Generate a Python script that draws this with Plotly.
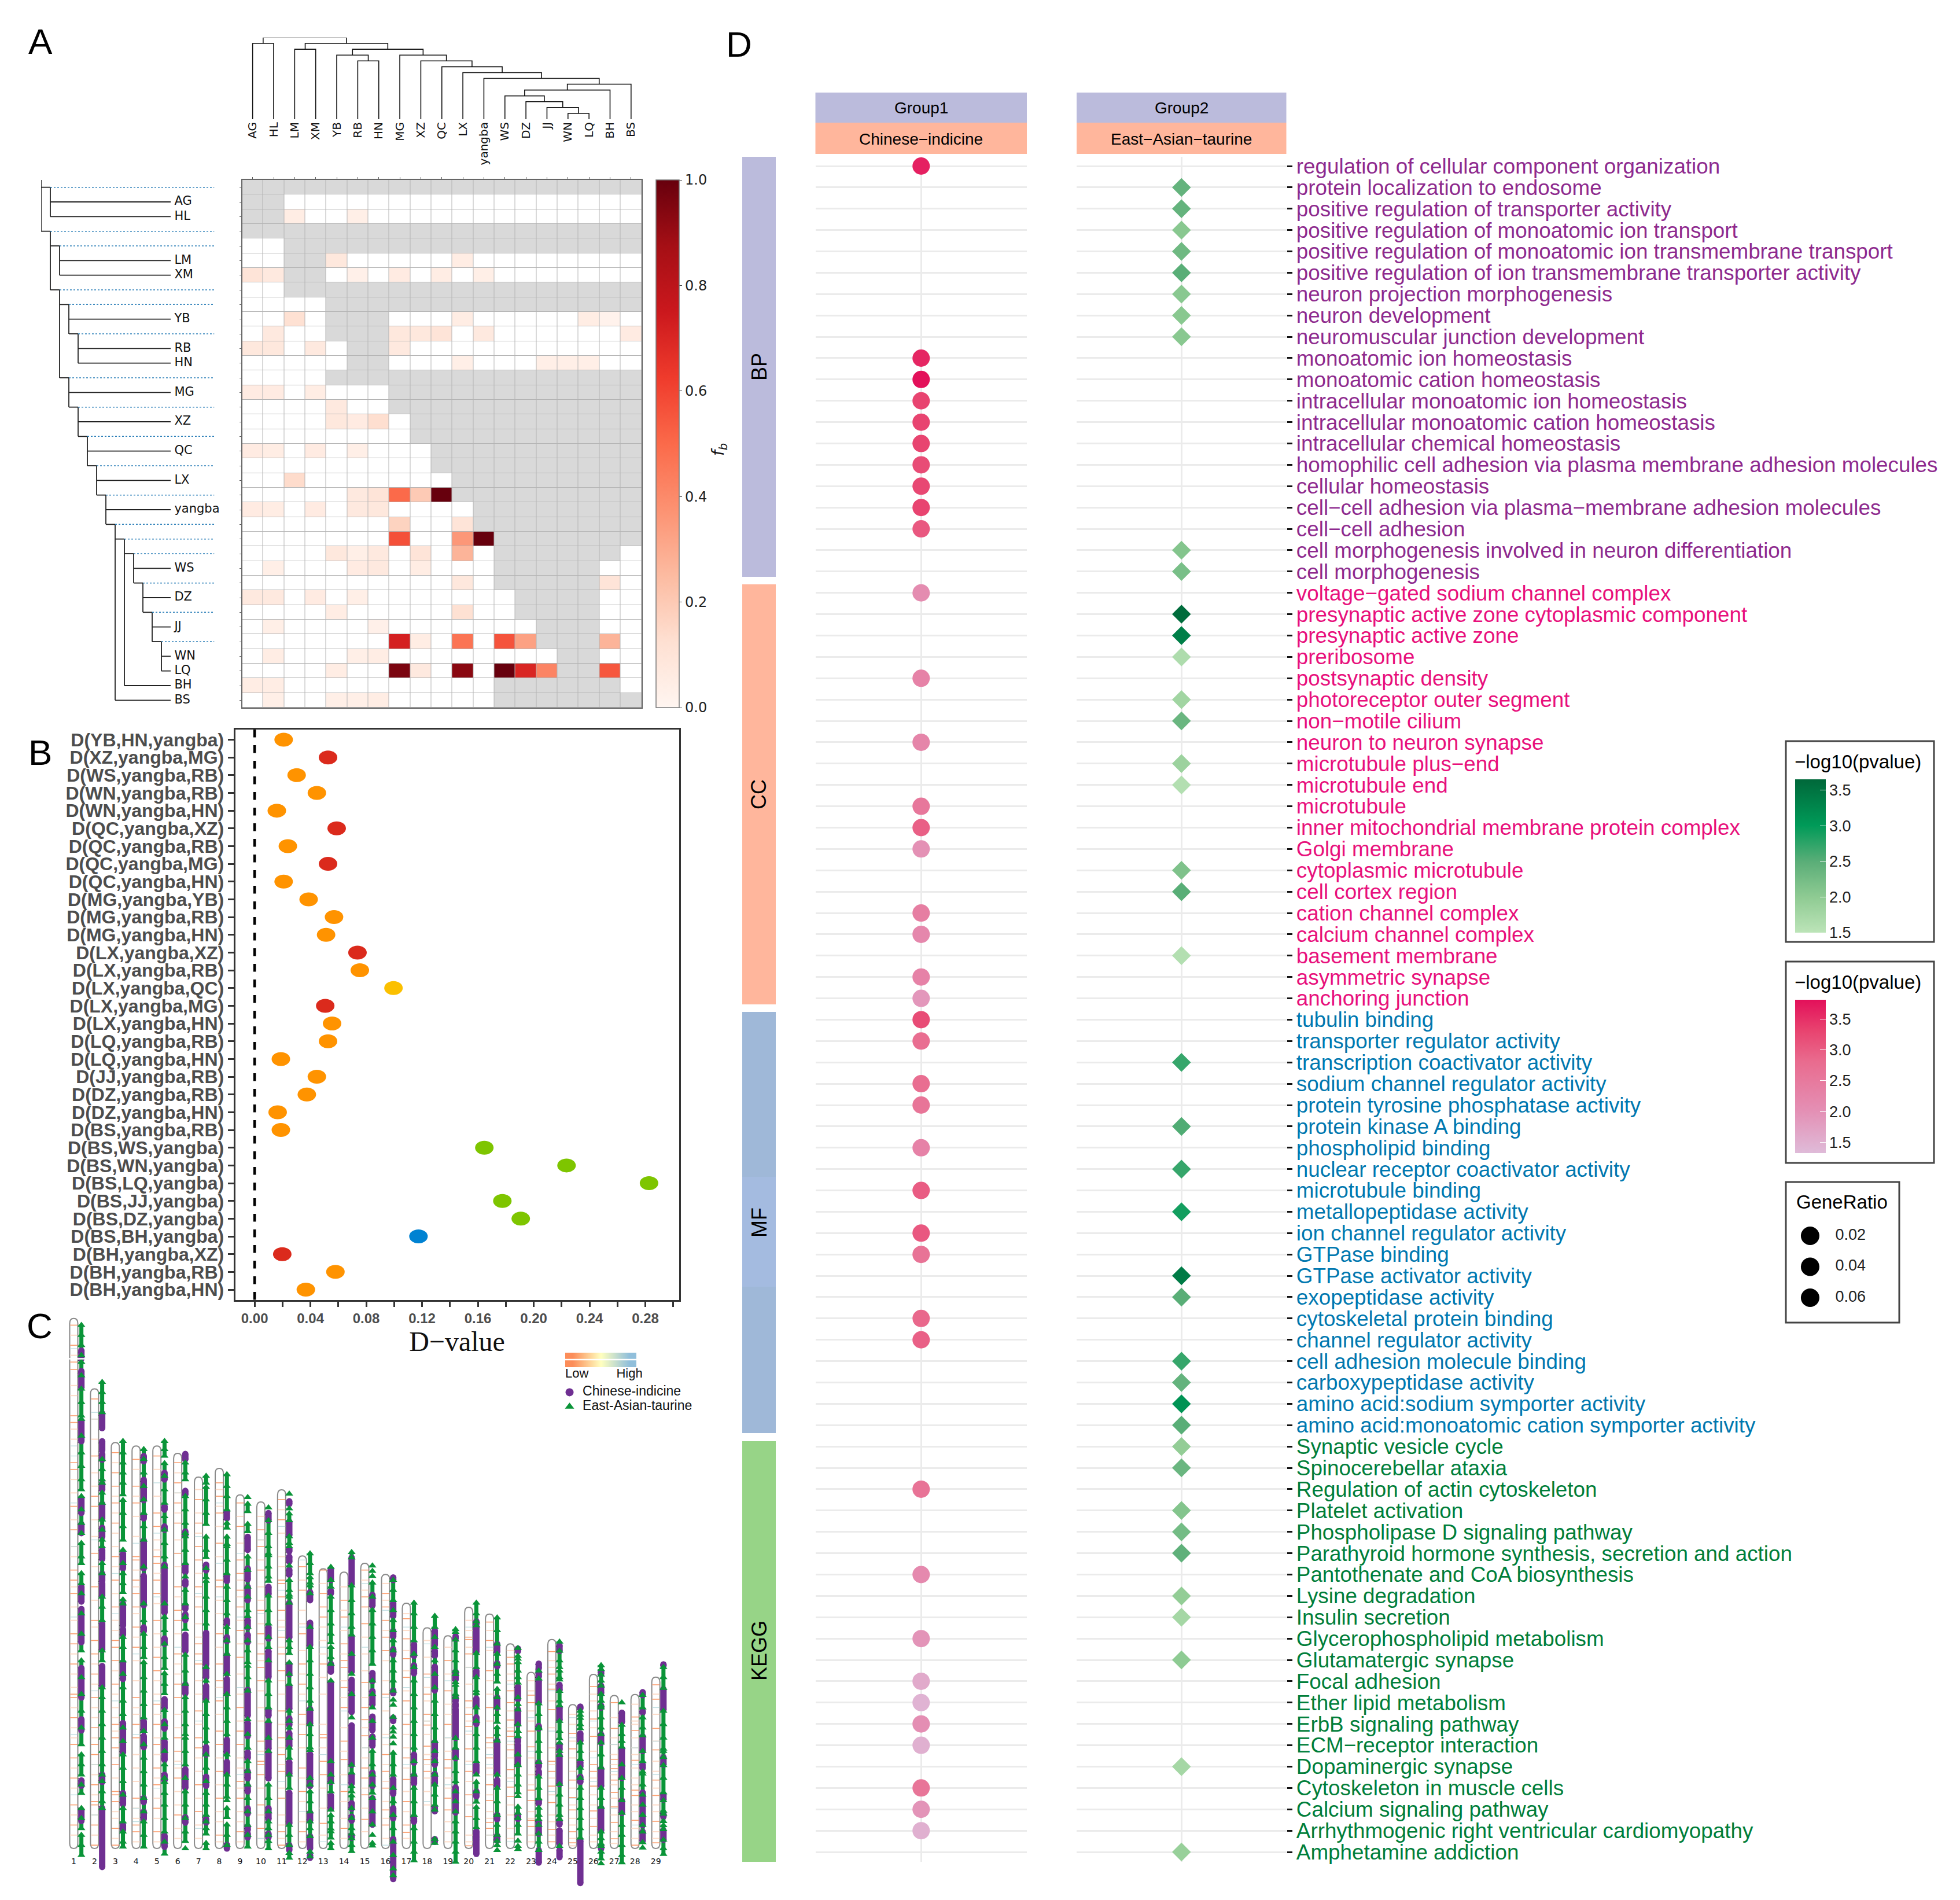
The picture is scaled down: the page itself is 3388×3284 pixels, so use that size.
import plotly.graph_objects as go

W, H = 3388, 3284
FONT = "Liberation Sans"
N = None

# ---------- Panel A ----------
pops = ["AG","HL","LM","XM","YB","RB","HN","MG","XZ","QC","LX","yangba","WS","DZ","JJ","WN","LQ","BH","BS"]
fb_rows = [
 [N,N,N,N,N,N,N,N,N,N,N,N,N,N,N,N,N,N,N],
 [N,N,0,0,0,0,0,0,0,0,0,0,0,0,0,0,0,0,0],
 [N,N,.05,0,0,.04,0,0,0,0,0,0,0,0,0,0,0,0,0],
 [N,N,N,N,N,N,N,N,N,N,N,N,N,N,N,N,N,N,N],
 [0,0,N,N,N,N,N,N,N,N,N,N,N,N,N,N,N,N,N],
 [0,0,N,N,.08,0,0,0,0,0,.05,0,0,0,0,0,0,0,0],
 [.1,.07,N,N,0,.03,0,.06,0,.05,0,.04,0,0,0,0,0,0,0],
 [0,0,N,N,N,N,N,N,N,N,N,N,N,N,N,N,N,N,N],
 [0,0,0,0,N,N,N,N,N,N,N,N,N,N,N,N,N,N,N],
 [0,0,.12,0,N,N,N,0,0,0,.05,0,0,0,0,0,.05,.02,0],
 [0,.07,0,0,N,N,N,.08,.08,.1,0,.07,0,0,0,0,0,0,.06],
 [.08,.08,0,.07,0,N,N,.07,0,0,0,0,0,0,0,0,0,0,0],
 [0,0,0,0,0,N,N,0,0,0,.04,0,0,0,.04,.04,.04,0,0],
 [0,0,0,0,N,N,N,N,N,N,N,N,N,N,N,N,N,N,N],
 [.06,.06,0,.05,0,0,0,N,N,N,N,N,N,N,N,N,N,N,N],
 [0,0,0,0,.07,0,0,N,N,N,N,N,N,N,N,N,N,N,N],
 [0,0,0,0,.08,.06,.13,0,N,N,N,N,N,N,N,N,N,N,N],
 [0,0,0,0,0,0,0,0,N,N,N,N,N,N,N,N,N,N,N],
 [.06,.05,0,.06,0,.04,0,0,0,N,N,N,N,N,N,N,N,N,N],
 [0,0,0,0,0,0,0,0,0,N,N,N,N,N,N,N,N,N,N],
 [0,0,.14,0,0,0,0,0,0,0,N,N,N,N,N,N,N,N,N],
 [0,0,0,0,0,.07,.1,.5,.2,1.0,N,N,N,N,N,N,N,N,N],
 [.06,.05,0,.06,0,.07,.08,0,0,0,0,N,N,N,N,N,N,N,N],
 [0,0,0,0,0,0,0,.17,0,0,.1,N,N,N,N,N,N,N,N],
 [0,0,0,0,0,0,0,.57,0,0,.36,1.0,N,N,N,N,N,N,N],
 [0,0,0,0,.08,.04,.07,0,.1,0,.27,0,N,N,N,N,N,N,0],
 [0,.04,0,0,0,.06,.07,0,.05,0,0,0,N,N,N,N,N,0,0],
 [0,0,0,0,0,0,0,0,0,0,.08,0,N,N,N,N,N,.1,0],
 [.07,.07,0,.06,0,.04,0,0,0,0,0,0,0,N,N,N,N,0,0],
 [0,0,0,0,.05,0,0,0,0,0,.12,0,0,N,N,N,N,0,0],
 [0,.04,0,0,0,0,.03,0,0,0,0,0,0,0,N,N,N,0,0],
 [0,0,0,0,0,0,0,.72,.05,0,.47,0,.56,.33,N,N,N,.27,0],
 [0,.05,0,0,0,.04,.05,0,0,0,0,0,0,0,0,N,N,0,0],
 [0,0,0,0,.05,0,0,.96,.07,0,.93,0,1.0,.7,.42,N,N,.55,0],
 [.05,.05,0,0,0,0,0,0,0,0,0,0,N,N,N,N,N,N,0],
 [0,.04,0,0,.04,.04,.05,0,0,0,0,0,N,N,N,N,N,N,N],
]
# merges of the upper dendrogram: child, child, merge height
top_merges = [("WN","LQ",1),("JJ","m0",2),("DZ","m1",3),("WS","m2",4),("m3","BH",5),("m4","BS",6),
              ("yangba","m5",7),("LX","m6",8),("QC","m7",9),("XZ","m8",10),("MG","m9",11),
              ("RB","HN",10),("YB","m11",11),("m12","m10",12),("LM","XM",12),("m14","m13",13),
              ("AG","HL",13),("m16","m15",14)]
# left tree: vertical branches (depth, first row, last row)
left_verticals = [(0,-.5,3),(1,0,2),(1,3,7),(2,4,6),(2,7,13),(3,8,10),(4,10,12),(3,13,15),(4,15,17),(5,17,19),
                  (6,19,21),(7,21,23),(8,23,35),(9,24,34),(10,25,27),(11,27,29),(12,29,31),(13,31,33)]
left_tips = [(0,1),(3,1),(4,2),(7,2),(8,3),(10,4),(13,3),(15,4),(17,5),(19,6),(21,7),(23,8),(24,9),(25,10),(27,11),(29,12),(31,13)]
left_leaves = [("AG",1,1),("HL",2,1),("LM",5,2),("XM",6,2),("YB",9,3),("RB",11,4),("HN",12,4),("MG",14,3),("XZ",16,4),
               ("QC",18,5),("LX",20,6),("yangba",22,7),("WS",26,10),("DZ",28,11),("JJ",30,12),("WN",32,13),("LQ",33,13),
               ("BH",34,9),("BS",35,8)]
reds = [[0,"#ffffff"],[.002,"#fff5f0"],[.125,"#fee0d2"],[.25,"#fcbba1"],[.375,"#fc9272"],[.5,"#fb6a4a"],
        [.625,"#ef3b2c"],[.75,"#cb181d"],[.875,"#a50f15"],[1,"#67000d"]]

# ---------- Panel B ----------
d_labels = ["D(YB,HN,yangba)","D(XZ,yangba,MG)","D(WS,yangba,RB)","D(WN,yangba,RB)","D(WN,yangba,HN)","D(QC,yangba,XZ)",
 "D(QC,yangba,RB)","D(QC,yangba,MG)","D(QC,yangba,HN)","D(MG,yangba,YB)","D(MG,yangba,RB)","D(MG,yangba,HN)",
 "D(LX,yangba,XZ)","D(LX,yangba,RB)","D(LX,yangba,QC)","D(LX,yangba,MG)","D(LX,yangba,HN)","D(LQ,yangba,RB)",
 "D(LQ,yangba,HN)","D(JJ,yangba,RB)","D(DZ,yangba,RB)","D(DZ,yangba,HN)","D(BS,yangba,RB)","D(BS,WS,yangba)",
 "D(BS,WN,yangba)","D(BS,LQ,yangba)","D(BS,JJ,yangba)","D(BS,DZ,yangba)","D(BS,BH,yangba)","D(BH,yangba,XZ)",
 "D(BH,yangba,RB)","D(BH,yangba,HN)"]
d_values = [.0208,.0526,.0301,.0446,.0159,.0588,.0238,.0526,.0208,.0387,.0569,.0512,.0737,.0754,.0995,.0506,.0555,
            .0526,.0188,.0446,.0374,.0165,.0188,.1646,.2235,.2826,.1775,.1907,.1174,.0198,.0579,.0367]
d_groups = ["O","R","O","O","O","R","O","R","O","O","O","O","R","O","Y","R","O","O","O","O","O","O","O","G","G","G","G","G","B","R","O","O"]
d_colors = {"O":"#FF9300","R":"#DB2A1C","Y":"#FBC000","G":"#7EC500","B":"#0082D2"}
d_ticks = [0,.04,.08,.12,.16,.20,.24,.28]
d_ticktext = ["0.00","0.04","0.08","0.12","0.16","0.20","0.24","0.28"]

# ---------- Panel C ----------
chrom_len = [158,137,121,120,120,117.8,110.7,113.3,105.4,103.3,106.9,87.2,83.4,82.4,85,81.7,73.1,65.8,63.4,71.9,69.9,61,52.5,62.3,42.9,51.9,45.6,45.9,51.1]
taurine_pos = [
 [156,153,150,147,N,145,141,137,133,129,N,128,123,118,114,110,107,N,105,101,97,94,N,91,87,85,N,82,79,76,N,70,64,59,N,56,51,46,41,36,31,N,28,25,22,N,19,16.5,N,12,9,6,N,4,1,-2],
 [139,136,133,130,N,116,113,110,N,109,106,103,N,98,95,N,92,90,N,85,82,N,75,72,68,N,59,56,N,48,45,41,37,33,29,25,22,N,20,17,14,12],
 [121.4,118,115,112,109,105.5,N,103.8,100,96,92,N,89,85,82,79,76.4,N,74.2,73,N,63,60,56,52,48,44,40,36,32,28,24,20,16,12,8,5,2,.5],
 [119,116,112,108,104,100,96,92,84,73,68,64,60,57,N,55.5,51,47,43,39,35,31,27,23,19,15,11,8,4,.5],
 [121.4,119,117,N,114.8,111,107,103,99,95,91,87,84,73,69,65,61,57,53.8,N,52.2,49,46.2,N,41.2,37,33,29,25,21,N,19.8,16.5,13,9,5,2,-1.6],
 [115,112,110,N,105,101,97,94,N,93,89,85,81,77,73,69,65.4,N,57.7,53,49,45,41,37,34,N,33,29,25,21,17,13,9,5,2.2,N,0],
 [111,109,N,107.7,104,100,96.7,N,92.9,89,86.8,N,83.5,80.8,N,79.7,75,71,67,54,50,44,40,36,32,28,24,20,16.5,13,10,N,8,6,4.4,N,1.6,0],
 [111.5,108,105,101,N,97,95.6,N,92.9,90.7,N,90,86,82,78,74,70,66,62,58,52,46,42,38,34,28,22,19,15.4,N,14.3,N,12,9.3,N,7.1,4,1],
 [104.7,N,102.7,100.5,N,96.7,94.5,N,87,83,78,75,71,69.2,N,66,62,59,55.5,N,54.4,51,47,N,38.5,34,30,26,23,19,15,11,7,4,.5],
 [101.6,N,97.8,94,90,87.9,N,87.4,84,81,79.7,N,75.3,71,67,63,60,56,50,46,42,38,33,29,N,19,15,11,8,6,4,N,2.2,0],
 [105.7,N,101.3,N,99.8,97.8,N,93,91,90,N,84.3,N,80,77,75.6,N,75,73.2,N,62,60,58.2,N,55.4,52,49,N,41,38,N,36,33,30,27,22,18,N,7,4,1,-1.4,-2.8],
 [87.9,85,82,N,80.8,79.2,N,78.4,76,N,66,60,56,52,48,44,41.6,N,37,34,30.1,N,29.3,N,21,19,N,17,14,11,N,8,6,3.6,N,-1,-2.4],
 [83.9,80,78,N,75,71,67,64,61.4,N,60,57,55,N,50,N,26,22,N,19.8,17,N,11.5,N,9.9,8,5.9,N,5.1,3.2,N,1.6,0],
 [88.3,86.7,N,78.4,74,70,66,63.7,N,58,N,52,N,46,N,39,N,24.9,22.6,N,18.6,17,N,15.8,12,9,6,4.4,N,3,1,-.8],
 [84.3,N,82.7,N,81.2,N,79.2,75,71,67,63,59,55,N,50,46,N,42,N,38,N,33,N,29,25,22,19,16.6,N,15,11,7.1,N,4,N,1.6,.8],
 [80,77,74,71,68,65,62,59,56,53,50,47,N,44.3,N,42.8,N,39.2,N,36,N,34.8,N,33.3,N,31.3,N,28.5,25,22,18,14,10,6,2,-2,-6,-8],
 [73.2,70,66,62,58,54,50,46,42,38,34,30,26,22,18,14,10,6,2,-1,-3.6],
 [69.3,66,63,60,56,52,48,44,40,36,32,29,26,22,19,16,13,11.5,N,2.8,1.6],
 [65.3,64.5,N,62.2,59,56,53,N,51.9,49.5,N,48.7,46,45.1,N,32.9,30,27,23,20,17,14,11,8,5,2,-1,-4],
 [73.2,70,67.7,N,66.5,N,58.2,54,51,47.1,N,46.3,42,38,34,30,26,22,N,19.8,17,13.9,N,12.3,9,6.3],
 [68.8,65,61,58,55,52,49.7,N,47.5,45,42,40,37.7,N,36.1,34,32.1,N,22,18,14,10,7,4,2.3,N,1,N,-.5],
 [59.7,N,57.4,56.5,N,55.5,53,51,49.4,N,45,43,41.4,N,37,35,33.4,N,28,25,N,24.8,22,19,16.7,N,15.5,N,12.4,10.6,N,9,7,4.4,N,2.3,N,.7,-.2],
 [53,N,50.6,N,43.2,40,36.1,N,35.8,32,29,25.7,N,21.4,18,14.9,N,12.1,10,8.7,N,7,4.4,2,-.5],
 [61.6,N,58.9,56,54,N,53,51,50.3,N,46.9,44,42.6,N,38,35,32.8,N,31.5,29,27.8,N,19.2,16,13,10,8.7,N,.7],
 [41,39.8,N,38.9,37,35.8,N,31.5,29,26.6,N,24,21,18,15,12,9,6,3.2],
 [54.6,53.4,N,51.8,50,48.5,N,46,44,42.6,N,42,39,36,34,N,31.5,28,24.1,N,18,15,12.4,N,5,3,1.4,N,.7,-1,-3,N,-4.5],
 [43.5,N,36.8,34,32,30.3,N,25,21,18,14.3,N,10.6,7,4,1,-2,-4.2],
 [45.7,42,39,36,33.7,N,29,26,22.9,N,22.3,19,16,13,10,7,5,N,1.8,N,.2],
 [54,51,47.8,N,41,37,33,29.7,N,29,27.2,N,24.8,21,16.7,N,14.3,11.2,N,10.3,8.1,N,6.9,5.7,N,2.6,0,-1.7],
]
indicine_runs = [
 [(148.4,146),(142.3,137.4),(127.5,121.4),(104.4,100),(96.7,94),(78,73.6),(71.4,61.5),(53.8,45),(38.5,35.2),(20.3,18.7),(11.5,8.2)],
 [(129.7,125.3),(121.4,118.7),(117.6,115.9),(108.8,107),(102.7,98.4),(95.6,92.9),(89,86.3),(81.9,79.7),(79,75.3),(67,59.3),(54.4,48.4),(22,19.8),(12,-5.5)],
 [(87.9,83.5),(73,66.5),(65.4,63.7),(55.5,50.5),(37.4,28.6),(16.5,13.2),(7.1,5.5)],
 [(117,115.4),(109.9,108.2),(107.7,103.8),(99.5,98.4),(91.8,83.5),(81.3,72.5),(65.9,64.8),(37.9,35.2),(33.5,30.2),(15,13.8),(11,8.8)],
 [(112,110),(102,101),(96,95),(84.6,73.6),(73,70.3),(62.6,61),(44.5,41.8),(37.9,35.7),(31.9,26.4),(22,20.3),(3.8,.5)],
 [(117.6,116),(106.6,105.5),(94.5,93.4),(84.6,82.4),(79.7,78.6),(72.5,71.4),(69.8,68.1),(63.7,58.8),(48.9,46.2),(23.6,18.1),(9.3,7.7)],
 [(84.6,82.9),(64.3,54.9),(53.8,51),(48.4,44.5),(30.2,28),(21.4,18.7),(8.8,7.7)],
 [(100.5,98.4),(81.3,79.7),(68,66.9),(63,61.8),(57.7,52.2),(50.5,46.2),(32.4,28.6),(25.8,22.5),(1.1,0)],
 [(92.9,89),(83.5,80.2),(78,74),(68.1,65.9),(63.7,61.5),(47.3,39.6),(37.4,33.5),(28.6,27),(23,20.9),(18.7,17),(12,10.4),(6.6,5.5),(4.4,3.3)],
 [(100,97.8),(78,75.8),(65.9,62.6),(58.8,51.1),(41.2,39.6),(37.4,29.7),(28.6,20.9),(12,8.8),(4.4,3.3)],
 [(103.5,102.7),(97.4,93.4),(89.4,88.6),(87,85.5),(83.1,81.6),(73.2,62.9),(55,51.9),(48.3,41.6),(38.8,36.8),(34.4,30.5),(25.7,22.2),(16.6,7.5),(1,-.5)],
 [(76.4,74),(67.3,60.6),(41.6,37.2),(28.1,21),(20.2,18.6),(10.7,8.3),(3.6,0),(-2,-2.8)],
 [(83.3,80),(76.8,76),(55,52.7),(49.5,19.8),(15.8,11.9)],
 [(86.7,78.8),(63,58.3),(57.5,52.7),(50.3,47.1),(46.3,40.7),(36.7,24.9),(21.8,19.4),(13.5,11.9),(9.5,8.3),(4,3.2)],
 [(75.6,72.4),(52.3,49.9),(46.9,42.9),(39.3,35.3),(33.4,30.6),(22.6,18.6),(15,7.1)],
 [(80.8,80),(73.2,69.3),(64.8,63.2),(59.4,57.8),(47.1,46.3),(39,38),(20.7,16.3),(12,9),(2.8,-9.1)],
 [(60.9,57.4),(54.6,52.2),(28,25.6),(21.8,19.4),(9,8)],
 [(65,60.6),(59,57.4),(54.2,47.1),(31.7,27.4),(26.6,25),(22.2,19.4),(12.3,11.1),(2.8,2)],
 [(63.3,62.5),(52.7,50.3),(45.1,43.9),(43.1,42.3),(41.6,32.9),(29.3,26.9),(18.2,10.7)],
 [(67.7,66.9),(66.1,58.6),(53,51.4),(44.7,42.3),(39.1,37.1),(25,22.6),(17,15.5),(5.1,3.2),(2.8,-1.6)],
 [(61,58.6),(55.2,54.3),(45,42),(32.1,22.3),(20.4,18.6),(10,8.7),(3.8,2.3)],
 [(59.6,58.8),(48.2,44.5),(41.4,37),(32.8,31.8),(30.9,25),(9.8,8.8)],
 [(55.1,53.7),(52.5,51.2),(50,43.5),(36.5,35.8),(25.7,24.4),(23,22),(14.3,13.4),(7.8,4.4),(-.5,-4.2)],
 [(60.5,58.9),(48.8,47.2),(42,38.3),(31,29.5),(27.8,19.2),(8.4,7.2),(5.4,1.4),(-.5,-2.6)],
 [(42.3,41.7),(34.3,32.1),(25.7,24.4),(21.4,19.8),(2.3,-10.3)],
 [(52.8,52),(48.5,46.3),(42.6,42),(34,31.5),(23.8,18.6),(12.1,5.4),(.6,-.1)],
 [(40.5,37.7),(29.7,21),(14.3,10.6)],
 [(46.6,45.7),(41,40.5),(33.4,29.1),(25,24),(16.7,6.9),(5,2.3)],
 [(54.9,54.5),(47.5,41.4),(27.2,25),(16.1,14.6),(10.3,9.5),(5.4,2.6)],
]
bands_low = [
 [156,150,145,142.8,129,127,115,113,102,95,83,80,76,64,61,55,46,45,39,31,27,21,13,7],
 [134,117,105,102,88,78,68,62,58,52,45,36,31,28,19,14,13,7,1],
 [118,112,108,103,97,87,80,72,62,60,56,49,37,33,30,25,17,16,14,6,1],
 [116,108,103,87,86,80,76,72,66,60,45,37,33,15,7,5],
 [117,100,96,87,85,80,76,68,57,53,43,37,31,24,19,12,5],
 [115,109,103,97,88,78,71,68,58,49,45,33,29,21,10],
 [104,97,90,86,78,72,61,58,55,41,33,30,19,11],
 [109,105,100,91,80,78,64,55,50,44,35,31,23,15,4],
 [103,96,86,82,77,72,65,57,42,35,31,20,15,5],
 [95,90,83,71,64,58,54,50,32,26,25,22,13,6],
 [104,98,80,79,75,71,63,58,53,41,33,28,23,15,5,1],
 [84,77,64,55,49,40,34,24,17,5],
 [83,76,72,69,55,34,33,26,22,7.5],
 [74,69,61,56,54,48,42,32,26.5,17,6],
 [83,75,72,67,49.5,42,38.4,33.6,24,21,16,8.7],
 [76,72,68,63,59,46,28,23,18,11.5,7],
 [68.5,62.5,56.6,51,44,37,27,20.6,14,7,4.8],
 [40,36.8,30.5,26.5,52,46,23],
 [56,47,37,26.5,24,15,11.5],
 [63,62.3,58,44,40,36.4,29.7,23,16,9.5,.8],
 [67.5,62,53,42,33,31.5,27,19,14.3,7.8,6],
 [57,55,47,43.5,38.3,35,33.4,29.4,23.5,18.3,15.5],
 [45.7,43.5,35,30.3,17.4,14.3,8.4,6.6],
 [58.7,52,47.5,41.4,26,23,18.6,13.7,5.7,2],
 [34.3,29.7,20.4,15.2,11.5,5,1.7],
 [48.3,38.6,33.4,25,23,18.6,11.2,6.6],
 [43.5,35.8,26.6,23.8,20.4,16.7,12.4,7.8,2.9],
 [39.2,35.2,26.3,17.4,15.8,8.4,1],
 [48.8,44.5,35.8,29.4,20.4,15.8,8.1,1.7],
]
bands_mid = [
 [153,147,138,135,125,122,110,106,98,90,87,78,72,68,58,52,48,42,36,33,24,18,10,4],
 [128,122,112,108,98,93,84,74,66,55,49,42,39,33,25,22,16,10,4],
 [115,105,100,94,90,84,76,68,65,53,46,42,39,35,27,21,11,9,3],
 [113,105,99,93,83,78,70,63,56,50,42,40,28,24,20,12,9,2],
 [113,105,92,89,82,73,64,60,50,46,40,33,28,21,15,9,2],
 [112,106,100,92,84,75,64,55,52,40,36,26,24,17,13,6,3],
 [107,100,94,82,75,67,63,50,46,37,27,23,15,7,3],
 [107,102,96,87,74,70,60,48,40,27,19,11,8,2],
 [99,91,80,75,68,61,52,46,38,27,24,18,11,8,2],
 [99,92,86,78,74,67,61,56,47,42,38,29,18,10,3],
 [101,94,87,84,68,66,60,50,46,37,30,25,18,10,7,3],
 [80,71,67,59,52,46,37,30,21,14,8,2],
 [79,66,62,58,51,46,37,30,18,12,4],
 [78,71,65,58,50,45,36,29,22,14,9,3],
 [80,77,63,58,53,45,36,30,27,18,12,5],
 [79,74,65,56,50,41,34,31,25,20,14,9,3],
 [70,65,59,53,47,40,34,30,24,17,11,3],
 [62,57,48,44,38,34,28,25,21,17,13],
 [60,52,43,40,33,29,21,18,8,5,2],
 [68,65,60,54,49,42,38,34,26,20,13,4,2],
 [65,59,50,46,38,30,24,22,16,11,9,4],
 [59,52,50,41,36,31,27,21,13,10,6,3],
 [50,47,41,38,27,22,19,11,9,4,2],
 [56,54,49,44,36,30,25,21,16,10,8,4],
 [40,37,32,27,23,18,13,9,7,3,.8],
 [46,44,41,36,29,21,16,13,9,4,2],
 [39,33,31,28,25,22,19,15,10,5,1.5],
 [43,38,37,33,30,28,24,21,19,13,11,6,3],
 [46,40,32,26,23,18,13,11,5,3],
]
bands_high = [[149,120,117,103,90,69,34,16],[130,128,92,47,25,10],[82,70,44,6],[91,58,34,12,8],[109,94,75,44,18],[106,88,60,25],[93,76,56,38,6],[103,85,75,45],[88,69,48,22],[92,70,28,3],[96,77,65,20],[86,66,44,11],[60,28,2],[66,41,19],[79,60,30],[71,45,33,1],[66,48,25],[61,51,38,14],[50,33,19],[66,54,35,25],[60,28,25,4],[49,32,20,2],[39,29],[47,35,17],[39,33,15],[38,27,20],[31,12,23],[30,25,7],[42,32,22]]
chrom_breaks = [(1,146)]
legend_c_gradient = [0,.25,.5,.75,1]

# ---------- Panel D ----------
terms_bp = ["regulation of cellular component organization","protein localization to endosome","positive regulation of transporter activity","positive regulation of monoatomic ion transport","positive regulation of monoatomic ion transmembrane transport","positive regulation of ion transmembrane transporter activity","neuron projection morphogenesis","neuron development","neuromuscular junction development","monoatomic ion homeostasis","monoatomic cation homeostasis","intracellular monoatomic ion homeostasis","intracellular monoatomic cation homeostasis","intracellular chemical homeostasis","homophilic cell adhesion via plasma membrane adhesion molecules","cellular homeostasis","cell−cell adhesion via plasma−membrane adhesion molecules","cell−cell adhesion","cell morphogenesis involved in neuron differentiation","cell morphogenesis"]
terms_cc = ["voltage−gated sodium channel complex","presynaptic active zone cytoplasmic component","presynaptic active zone","preribosome","postsynaptic density","photoreceptor outer segment","non−motile cilium","neuron to neuron synapse","microtubule plus−end","microtubule end","microtubule","inner mitochondrial membrane protein complex","Golgi membrane","cytoplasmic microtubule","cell cortex region","cation channel complex","calcium channel complex","basement membrane","asymmetric synapse","anchoring junction"]
terms_mf = ["tubulin binding","transporter regulator activity","transcription coactivator activity","sodium channel regulator activity","protein tyrosine phosphatase activity","protein kinase A binding","phospholipid binding","nuclear receptor coactivator activity","microtubule binding","metallopeptidase activity","ion channel regulator activity","GTPase binding","GTPase activator activity","exopeptidase activity","cytoskeletal protein binding","channel regulator activity","cell adhesion molecule binding","carboxypeptidase activity","amino acid:sodium symporter activity","amino acid:monoatomic cation symporter activity"]
terms_kegg = ["Synaptic vesicle cycle","Spinocerebellar ataxia","Regulation of actin cytoskeleton","Platelet activation","Phospholipase D signaling pathway","Parathyroid hormone synthesis, secretion and action","Pantothenate and CoA biosynthesis","Lysine degradation","Insulin secretion","Glycerophospholipid metabolism","Glutamatergic synapse","Focal adhesion","Ether lipid metabolism","ErbB signaling pathway","ECM−receptor interaction","Dopaminergic synapse","Cytoskeleton in muscle cells","Calcium signaling pathway","Arrhythmogenic right ventricular cardiomyopathy","Amphetamine addiction"]
g1_rows = [0,9,10,11,12,13,14,15,16,17,20,24,27,30,31,32,35,36,38,39,40,41,43,44,46,48,50,51,54,55,62,66,69,71,72,73,74,76,77,78]
g1_logp = [3.65,3.6,3.8,3.3,3.3,3.3,3.2,3.25,3.3,3.05,2.1,2.3,2.25,2.55,2.95,2.0,2.4,2.2,2.3,1.9,3.2,2.75,2.75,2.6,2.3,3.0,3.05,2.65,2.85,2.95,2.65,2.15,1.95,1.6,1.45,2.05,1.5,2.6,1.95,1.5]
g2_rows = [1,2,3,4,5,6,7,8,18,19,21,22,23,25,26,28,29,33,34,37,42,45,47,49,52,53,56,57,58,59,60,61,63,64,65,67,68,70,75,79]
g2_logp = [2.4,2.4,2.05,2.3,2.5,2.05,2.05,2.05,2.1,2.2,3.6,3.35,1.65,1.8,2.35,1.85,1.6,2.15,2.5,1.6,2.7,2.55,2.7,2.9,3.4,2.5,2.7,2.4,3.1,2.5,1.95,2.35,2.1,2.25,2.45,1.95,1.75,2.0,1.75,1.9]
gene_ratio = [.02,.04,.06]
group_names = ["Group1","Group2"]
subgroup_names = ["Chinese−indicine","East−Asian−taurine"]
pink_scale = [[0,"#DFBBD9"],[.28,"#E48FB4"],[.6,"#E96B8E"],[.8,"#E8436F"],[1,"#E3105A"]]
green_scale = [[0,"#BCE4B8"],[.23,"#8FCB93"],[.46,"#5BAE78"],[.7,"#009A58"],[1,"#00683A"]]


def xd(a, b): return [a / W, b / W]
def yd(a, b): return [1 - b / H, 1 - a / H]
def px(x): return x / W
def py(y): return 1 - y / H

fig = go.Figure()
shapes, annots = [], []

# ---- A: heatmap
cols = list(range(19)); rows = list(range(36))
mask = [[1 if v is None else None for v in r] for r in fb_rows]
shapes.append(dict(type="rect", xref="x", yref="y", x0=-.5, x1=18.5, y0=-.5, y1=35.5, layer="below",
                   fillcolor="#B4B4B4", line=dict(width=0)))
fig.add_trace(go.Heatmap(z=mask, x=cols, y=rows, xgap=1, ygap=1, colorscale=[[0,"#D9D9D9"],[1,"#D9D9D9"]],
                         showscale=False, xaxis="x", yaxis="y", hoverinfo="skip"))
fig.add_trace(go.Heatmap(z=fb_rows, x=cols, y=rows, xgap=1, ygap=1, colorscale=reds, zmin=0, zmax=1, xaxis="x", yaxis="y",
    colorbar=dict(x=px(1134), xanchor="left", y=py(311), yanchor="top", len=912, lenmode="pixels", thickness=40,
                  xpad=0, ypad=0, tickvals=[0,.2,.4,.6,.8,1], ticktext=["0.0","0.2","0.4","0.6","0.8","1.0"],
                  tickfont=dict(family="DejaVu Sans", size=24, color="#222"), ticks="outside", ticklen=5,
                  outlinecolor="#777", outlinewidth=1.5)))
annots.append(dict(text="<i>f<sub>b</sub></i>", x=px(1243), y=py(764), xref="paper", yref="paper", textangle=-90,
                   showarrow=False, font=dict(family="DejaVu Sans", size=28, color="#111")))

# ---- A: upper dendrogram
pos = {p: (i, 0) for i, p in enumerate(pops)}
tx, ty = [], []
for i, (a, b, h) in enumerate(top_merges):
    xa, ha = pos[a]; xb, hb = pos[b]
    tx += [xa, xa, xb, xb, N]; ty += [ha, h, h, hb, N]
    pos["m%d" % i] = ((xa + xb) / 2, h)
fig.add_trace(go.Scatter(x=tx, y=ty, mode="lines", line=dict(color="#111", width=1.6), xaxis="x2", yaxis="y2", hoverinfo="skip"))

# ---- A: left tree
lx, ly = [], []
for d, r0, r1 in left_verticals:
    lx += [d, d, N]; ly += [r0, r1, N]
for r, d in left_tips:
    lx += [d - 1, d, N]; ly += [r, r, N]
for name, r, d in left_leaves:
    lx += [d, 14, N]; ly += [r, r, N]
fig.add_trace(go.Scatter(x=lx, y=ly, mode="lines", line=dict(color="#222", width=1.8), xaxis="x3", yaxis="y3", hoverinfo="skip"))
dx, dy = [], []
for r, d in left_tips:
    dx += [d, 18.7, N]; dy += [r, r, N]
fig.add_trace(go.Scatter(x=dx, y=dy, mode="lines", line=dict(color="#2B7FB8", width=1.5, dash="dot"), xaxis="x3", yaxis="y3", hoverinfo="skip"))
fig.add_trace(go.Scatter(x=[14.4] * len(left_leaves), y=[l[1] for l in left_leaves], text=[l[0] for l in left_leaves],
                         mode="text", textposition="middle right", textfont=dict(family="DejaVu Sans", size=21, color="#111"),
                         xaxis="x3", yaxis="y3", hoverinfo="skip"))

# ---- B
fig.add_trace(go.Scatter(x=d_values, y=list(range(len(d_values))), mode="markers",
                         marker=dict(size=22, color=[d_colors[g] for g in d_groups]), xaxis="x4", yaxis="y4"))
for i, v in enumerate(d_values):
    shapes.append(dict(type="circle", xref="x4", yref="y4", xsizemode="pixel", ysizemode="pixel", xanchor=v, yanchor=i,
                       x0=-16, x1=16, y0=-12, y1=12, fillcolor=d_colors[d_groups[i]], line=dict(width=0)))
shapes.append(dict(type="line", xref="x4", yref="y4 domain", x0=0, x1=0, y0=0, y1=1, line=dict(color="black", width=4.5, dash="dash")))

# ---- C
CW, COL = .195, .367
bl, bm, bh = ([], []), ([], []), ([], [])
gx, gy, px_, py_, con_g, con_p = [], [], [], [], ([], []), ([], [])
for k in range(29):
    c = k + 1; L = chrom_len[k]; r = 1.5; x0 = c - CW; x1 = c + CW
    shapes.append(dict(type="path", xref="x5", yref="y5", layer="below", fillcolor="white", line=dict(color="#8A8A8A", width=2),
        path=f"M {x0} {r} L {x0} {L-r} Q {x0} {L} {c} {L} Q {x1} {L} {x1} {L-r} L {x1} {r} Q {x1} 0 {c} 0 Q {x0} 0 {x0} {r} Z"))
    for src, dst in ((bands_mid[k], bm), (bands_low[k], bl), (bands_high[k], bh)):
        for b in src:
            dst[0].extend([x0 + .02, x1 - .02, N]); dst[1].extend([b, b, N])
    for v in taurine_pos[k]:
        gx.append(N if v is None else c + COL); gy.append(v)
        if v is not None and 0 <= v <= L + 3:
            con_g[0].extend([x1, c + COL, N]); con_g[1].extend([v, v, N])
    gx.append(N); gy.append(N)
    for a, b in indicine_runs[k]:
        px_.extend([c + COL, c + COL, N]); py_.extend([a, b, N])
        for v in (a, b):
            if 0 <= v <= L + 3:
                con_p[0].extend([x1, c + COL, N]); con_p[1].extend([v + (L / 2 - v) * .01, v, N])
def ln(x, y, color, width, **kw):
    fig.add_trace(go.Scatter(x=x, y=y, mode="lines", line=dict(color=color, width=width), xaxis="x5", yaxis="y5", hoverinfo="skip", **kw))
ln(bm[0], bm[1], "#FDDCC9", 2)
ln(bh[0], bh[1], "#BFDDE0", 1.3)
ln(bl[0], bl[1], "#FB9F70", 1.6)
ln(con_g[0], con_g[1], "#178F44", .8)
ln(con_p[0], con_p[1], "#1E1030", .9)
ln(gx, gy, "#0A9438", 7)
fig.add_trace(go.Scatter(x=px_, y=py_, mode="lines+markers", line=dict(color="#6F2F92", width=11),
                         marker=dict(symbol="circle", size=11, color="#6F2F92"), xaxis="x5", yaxis="y5", hoverinfo="skip"))
fig.add_trace(go.Scatter(x=gx, y=gy, mode="markers",
                         marker=dict(symbol="triangle-up", size=12, color="#0A9438"), xaxis="x5", yaxis="y5", hoverinfo="skip"))
for c, m in chrom_breaks:
    fig.add_trace(go.Scatter(x=[c - .3, c + .6], y=[m, m], mode="lines", line=dict(color="white", width=2.5), xaxis="x5", yaxis="y5", hoverinfo="skip"))
fig.add_trace(go.Scatter(x=list(range(1, 30)), y=[-4] * 29, text=[str(i) for i in range(1, 30)], mode="text",
                         textfont=dict(family="DejaVu Sans", size=14, color="#111"), xaxis="x5", yaxis="y5", hoverinfo="skip"))
# C legend
fig.add_trace(go.Heatmap(z=[legend_c_gradient, legend_c_gradient], zsmooth="best", showscale=False,
                         colorscale=[[0,"#FC8D59"],[.5,"#FFFFBF"],[1,"#91BFDB"]], xaxis="x6", yaxis="y6", hoverinfo="skip"))
shapes.append(dict(type="line", xref="paper", yref="paper", x0=px(975), x1=px(1102), y0=py(2350), y1=py(2350), line=dict(color="white", width=2.5)))
fig.add_trace(go.Scatter(x=[24.85], y=[136], mode="markers+text", text=["  Chinese-indicine"], textposition="middle right", cliponaxis=False,
                         marker=dict(size=14, color="#6F2F92"), textfont=dict(family=FONT, size=23, color="#111"), xaxis="x5", yaxis="y5", hoverinfo="skip"))
fig.add_trace(go.Scatter(x=[24.85], y=[131.7], mode="markers+text", text=["  East-Asian-taurine"], textposition="middle right", cliponaxis=False,
                         marker=dict(size=14, symbol="triangle-up", color="#0A9438"), textfont=dict(family=FONT, size=23, color="#111"), xaxis="x5", yaxis="y5", hoverinfo="skip"))
fig.add_trace(go.Scatter(x=[25.2, 27.73], y=[141.4, 141.4], mode="text", text=["Low", "High"],
                         textfont=dict(family=FONT, size=22, color="#111"), xaxis="x5", yaxis="y5", hoverinfo="skip"))

# ---- D
labels = ([f'<span style="color:#8E2A8E">{t}</span>' for t in terms_bp] +
          [f'<span style="color:#E8107C">{t}</span>' for t in terms_cc] +
          [f'<span style="color:#0078B0">{t}</span>' for t in terms_mf] +
          [f'<span style="color:#007E3A">{t}</span>' for t in terms_kegg])
fig.add_trace(go.Scatter(x=[0] * len(g1_rows), y=g1_rows, mode="markers", xaxis="x7", yaxis="y7", name="-log10(pvalue)",
    marker=dict(size=30, symbol="circle", color=g1_logp, cmin=1.33, cmax=3.81, colorscale=pink_scale,
        colorbar=dict(x=px(3103), xanchor="left", y=py(1728), yanchor="top", len=265, lenmode="pixels", thickness=53, xpad=0, ypad=0,
                      tickvals=[1.5,2,2.5,3,3.5], ticktext=["1.5","2.0","2.5","3.0","3.5"], ticks="inside", tickcolor="white", ticklen=10, outlinewidth=0,
                      tickfont=dict(family=FONT, size=27, color="#222")))))
fig.add_trace(go.Scatter(x=[0] * len(g2_rows), y=g2_rows, mode="markers", xaxis="x8", yaxis="y8", name="-log10(pvalue)",
    marker=dict(size=25, symbol="diamond", color=g2_logp, cmin=1.5, cmax=3.65, colorscale=green_scale,
        colorbar=dict(x=px(3103), xanchor="left", y=py(1347), yanchor="top", len=265, lenmode="pixels", thickness=53, xpad=0, ypad=0,
                      tickvals=[1.5,2,2.5,3,3.5], ticktext=["1.5","2.0","2.5","3.0","3.5"], ticks="inside", tickcolor="white", ticklen=10, outlinewidth=0,
                      tickfont=dict(family=FONT, size=27, color="#222")))))
fig.add_trace(go.Scatter(x=[.214] * 3, y=gene_ratio, mode="markers+text", text=["   %.2f" % g for g in gene_ratio], textposition="middle right",
                         marker=dict(size=32, color="black"), textfont=dict(family=FONT, size=27, color="#222"), xaxis="x9", yaxis="y9", hoverinfo="skip"))

def rect(x0, x1, y0, y1, fill, line=None):
    shapes.append(dict(type="rect", xref="paper", yref="paper", x0=px(x0), x1=px(x1), y0=py(y0), y1=py(y1),
                       fillcolor=fill, line=dict(width=0) if line is None else line, layer="below" if line is None else "above"))
def label(text, x, y, size, angle=0, anchor="center", family=FONT, color="black"):
    annots.append(dict(text=text, x=px(x), y=py(y), xref="paper", yref="paper", showarrow=False, textangle=angle,
                       xanchor=anchor, yanchor="middle", font=dict(family=family, size=size, color=color)))
for x0, x1, g, s in ((1409.5, 1775, group_names[0], subgroup_names[0]), (1861, 2223.5, group_names[1], subgroup_names[1])):
    rect(x0, x1, 160, 212, "#BBBBDC"); rect(x0, x1, 212, 266, "#FFB69C")
    label(g, (x0 + x1) / 2, 187, 28); label(s, (x0 + x1) / 2, 240, 28)
for y0, y1, col, t in ((271, 997, "#BBBBDC", "BP"), (1010, 1736, "#FFB69C", "CC"), (1749, 2034, "#9FB8D8", ""),
                       (2034, 2224, "#A4BBE0", "MF"), (2224, 2477, "#9FB8D8", ""), (2491, 3218, "#97D487", "KEGG")):
    rect(1283, 1341, y0, y1, col)
    if t == "MF":
        label(t, 1312, 2113, 36, -90)
    elif t == "BP":
        label(t, 1312, 634, 36, -90)
    elif t == "CC":
        label(t, 1312, 1373, 36, -90)
    elif t:
        label(t, 1312, 2853, 36, -90)
box = dict(color="#444", width=3)
rect(3087, 3343, 1281, 1628, "rgba(0,0,0,0)", box)
rect(3087, 3343, 1662, 2010, "rgba(0,0,0,0)", box)
rect(3087, 3283, 2043, 2286, "rgba(0,0,0,0)", box)
label("−log10(pvalue)", 3100, 1316, 33, anchor="left")
label("−log10(pvalue)", 3100, 1697, 33, anchor="left")
label("GeneRatio", 3103, 2077, 33, anchor="left")
for t, x, y in (("A", 70, 72), ("B", 69, 1300), ("C", 68, 2291), ("D", 1277, 76)):
    label(t, x, y, 62)

rows_r = [79.46, -.434]
layout_axes = dict(
    xaxis=dict(domain=xd(418.5, 1109), range=[-.5, 18.5], side="top", anchor="y", showgrid=False, zeroline=False, tickvals=cols, showticklabels=False,
               ticks="outside", ticklen=3, tickcolor="#555", mirror=True, showline=True, linecolor="#666", linewidth=1.5),
    yaxis=dict(domain=yd(311, 1223), range=[35.5, -.5], anchor="x", showgrid=False, zeroline=False, tickvals=rows, showticklabels=False,
               ticks="outside", ticklen=3, tickcolor="#555", mirror=True, showline=True, linecolor="#666", linewidth=1.5),
    xaxis2=dict(domain=xd(418.5, 1109), range=[-.5, 18.5], anchor="y2", tickvals=cols, ticktext=pops, tickangle=-90, ticks="", showgrid=False, zeroline=False,
                tickfont=dict(family="DejaVu Sans", size=20, color="#111")),
    yaxis2=dict(domain=yd(65, 206), range=[0, 14], anchor="x2", visible=False),
    xaxis3=dict(domain=xd(71, 400), range=[0, 20.56], anchor="y3", visible=False),
    yaxis3=dict(domain=yd(311, 1223), range=[35.5, -.5], anchor="x3", visible=False),
    xaxis4=dict(domain=xd(406.6, 1173.5), range=[-.0139, .304], anchor="y4", tickvals=d_ticks, ticktext=d_ticktext, showgrid=False, zeroline=False,
                ticks="outside", ticklen=9, tickwidth=3, tickcolor="#333", showline=True, mirror=True, linecolor="#333", linewidth=3,
                minor=dict(tick0=0, dtick=.02, ticks="outside", ticklen=9, tickwidth=3, tickcolor="#333", showgrid=False),
                tickfont=dict(family=FONT, size=24, color="#4D4D4D", weight="bold"),
                title=dict(text="D−value", font=dict(family="Liberation Serif", size=48, color="#111"), standoff=0)),
    yaxis4=dict(domain=yd(1261, 2246.5), range=[31.57, -.57], anchor="x4", tickvals=list(range(len(d_labels))), ticktext=d_labels, showgrid=False, zeroline=False,
                ticks="outside", ticklen=10, tickwidth=3, tickcolor="#333", showline=True, mirror=True, linecolor="#333", linewidth=3,
                tickfont=dict(family=FONT, size=32, color="#4D4D4D", weight="bold")),
    xaxis5=dict(domain=xd(100, 1180), range=[.235, 30.29], anchor="y5", visible=False),
    yaxis5=dict(domain=yd(2262, 3280), range=[-14.66, 160.9], anchor="x5", visible=False),
    xaxis6=dict(domain=xd(977, 1100), anchor="y6", visible=False),
    yaxis6=dict(domain=yd(2338, 2363), anchor="x6", visible=False),
    xaxis7=dict(domain=xd(1409.5, 1775), range=[-1, 1], anchor="y7", tickvals=[0], showticklabels=False, ticks="", gridcolor="#EBEBEB", gridwidth=3, zeroline=False),
    yaxis7=dict(domain=yd(271, 3218), range=rows_r, anchor="x7", tickvals=list(range(80)), showticklabels=False, ticks="", gridcolor="#EBEBEB", gridwidth=3, zeroline=False),
    xaxis8=dict(domain=xd(1861, 2223.5), range=[-1, 1], anchor="y8", tickvals=[0], showticklabels=False, ticks="", gridcolor="#EBEBEB", gridwidth=3, zeroline=False),
    yaxis8=dict(domain=yd(271, 3218), range=rows_r, anchor="x8", side="right", tickvals=list(range(80)), ticktext=labels, ticks="outside", ticklen=9, tickwidth=3,
                tickcolor="#111", gridcolor="#EBEBEB", gridwidth=3, zeroline=False, tickfont=dict(family=FONT, size=36.8)),
    xaxis9=dict(domain=xd(3087, 3283), range=[0, 1], anchor="y9", visible=False),
    yaxis9=dict(domain=yd(2100, 2270), range=[.0701, .00654], anchor="x9", visible=False),
)
fig.update_layout(width=W, height=H, margin=dict(l=0, r=0, t=0, b=0, pad=0, autoexpand=False), paper_bgcolor="white", plot_bgcolor="white",
                  showlegend=False, shapes=shapes, annotations=annots, font=dict(family=FONT), **layout_axes)
fig.write_html("out.html", config=dict(displayModeBar=False), post_script="document.body.style.margin='0';")
